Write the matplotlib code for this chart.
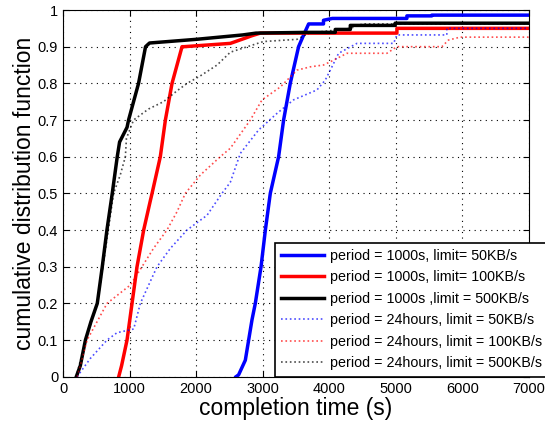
import matplotlib
matplotlib.use("Agg")
import matplotlib.pyplot as plt

plt.rcParams["font.family"] = ["Liberation Sans", "DejaVu Sans"]

# breakpoints (completion time s, cdf)
t_1000_50 = [2600, 2638, 2739, 2789, 2839, 2889, 2975, 3040, 3114, 3239, 3314, 3414,
             3539, 3625, 3690, 3913, 3913, 4046, 5166, 5166, 5540, 5540, 7000]
p_1000_50 = [0.0, 0.005, 0.045, 0.1, 0.155, 0.2, 0.3, 0.4, 0.5, 0.6, 0.7, 0.8,
             0.9, 0.936, 0.962, 0.962, 0.972, 0.977, 0.977, 0.984, 0.984, 0.986, 0.986]

t_1000_100 = [837, 880, 962, 1037, 1112, 1212, 1312, 1338, 1400, 1462, 1538, 1638, 1713,
              1788, 1820, 2514, 2764, 2839, 2964, 5016, 5016, 7000]
p_1000_100 = [0.0, 0.03, 0.1, 0.2, 0.3, 0.4, 0.48, 0.5, 0.55, 0.6, 0.7, 0.8, 0.85,
              0.9, 0.9, 0.909, 0.925, 0.93, 0.937, 0.937, 0.95, 0.95]

t_1000_500 = [200, 260, 337, 420, 515, 590, 660, 740, 815, 850, 962, 985, 1060, 1135,
              1240, 1300, 2000, 2700, 2900, 3666, 4090, 4090, 4316, 4316, 4990, 4990, 7000]
p_1000_500 = [0.0, 0.03, 0.1, 0.15, 0.2, 0.3, 0.4, 0.5, 0.6, 0.64, 0.68, 0.7, 0.75, 0.8,
              0.9, 0.91, 0.92, 0.932, 0.937, 0.939, 0.939, 0.947, 0.947, 0.958, 0.958, 0.964, 0.964]

t_24h_50 = [212, 412, 662, 812, 1062, 1162, 1287, 1413, 1613, 1863, 2163, 2313, 2388, 2513,
            2664, 2939, 3214, 3464, 3815, 3940, 4040, 4140, 4416, 4966, 5016, 5766,
            5766, 7000]
p_24h_50 = [0.0, 0.05, 0.1, 0.12, 0.13, 0.2, 0.25, 0.3, 0.35, 0.4, 0.44, 0.48, 0.5, 0.53,
            0.609, 0.673, 0.718, 0.755, 0.782, 0.809, 0.845, 0.882, 0.909, 0.909, 0.932, 0.932,
            0.95, 0.95]

t_24h_100 = [212, 362, 662, 1012, 1187, 1360, 1562, 1713, 1838, 2063, 2363, 2514, 2814,
             2990, 3264, 3515, 3715, 3913, 4040, 4266, 4866, 5016, 5692, 5790, 5966, 7000]
p_24h_100 = [0.0, 0.1, 0.2, 0.25, 0.3, 0.35, 0.4, 0.45, 0.5, 0.55, 0.6, 0.623, 0.7,
             0.755, 0.79, 0.836, 0.845, 0.85, 0.861, 0.882, 0.882, 0.9, 0.9, 0.918, 0.926, 0.926]

t_24h_500 = [200, 337, 515, 600, 680, 760, 860, 937, 953, 1060, 1285, 1510, 1715, 1865,
             2060, 2315, 2514, 3010, 3515, 3700, 4316, 4500, 7000]
p_24h_500 = [0.0, 0.1, 0.2, 0.3, 0.4, 0.5, 0.55, 0.6, 0.65, 0.7, 0.73, 0.75, 0.78, 0.8,
             0.82, 0.85, 0.885, 0.914, 0.92, 0.937, 0.95, 0.962, 0.962]

fig = plt.figure(figsize=(5.45, 4.24), dpi=100)
ax = fig.add_axes([0.1156, 0.1116, 0.8550, 0.8648])

ax.plot(t_1000_50, p_1000_50, color="blue", lw=2.5, label="period = 1000s, limit= 50KB/s")
ax.plot(t_1000_100, p_1000_100, color="red", lw=2.5, label="period = 1000s, limit= 100KB/s")
ax.plot(t_1000_500, p_1000_500, color="black", lw=2.5, label="period = 1000s ,limit = 500KB/s")
ax.plot(t_24h_50, p_24h_50, color="blue", lw=1.2, ls=":", alpha=0.7,
        label="period = 24hours, limit = 50KB/s")
ax.plot(t_24h_100, p_24h_100, color="red", lw=1.2, ls=":", alpha=0.7,
        label="period = 24hours, limit = 100KB/s")
ax.plot(t_24h_500, p_24h_500, color="black", lw=1.2, ls=":", alpha=0.7,
        label="period = 24hours, limit = 500KB/s")

ax.set_xlim(0, 7000)
ax.set_ylim(0, 1)
ax.set_xticks(range(0, 7001, 1000))
ax.set_yticks([i / 10 for i in range(11)])
ax.set_yticklabels(["0", "0.1", "0.2", "0.3", "0.4", "0.5", "0.6", "0.7", "0.8", "0.9", "1"])
ax.tick_params(direction="in", top=True, right=True, labelsize=10.5, length=4)
ax.grid(True, ls=(0, (1, 4)), color="black", lw=0.8)

ax.set_xlabel("completion time (s)", fontsize=16.5, labelpad=1)
ax.set_ylabel("cumulative distribution function", fontsize=16.5, labelpad=1)

leg = ax.legend(loc="upper left", bbox_to_anchor=(0.5046, 0.428),
                bbox_transform=fig.transFigure, fontsize=10.3, handlelength=3,
                fancybox=False, framealpha=1, edgecolor="black", borderpad=0.45,
                labelspacing=0.52, handletextpad=0.4, borderaxespad=0)
leg.get_frame().set_linewidth(1.2)

fig.savefig("out.png", dpi=100)
